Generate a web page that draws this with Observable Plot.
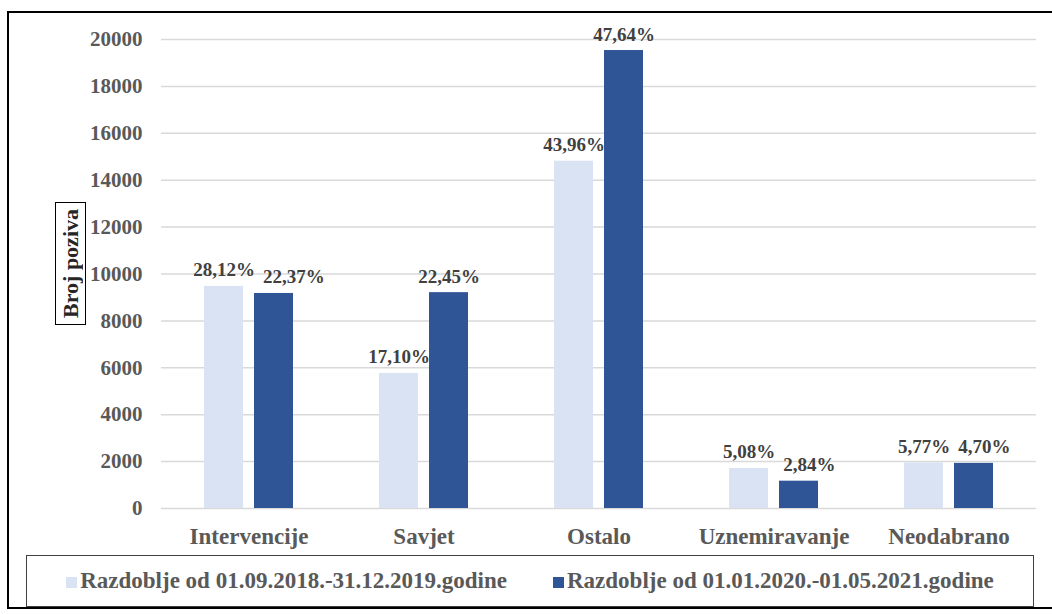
<!DOCTYPE html>
<html>
<head>
<meta charset="utf-8">
<script src="https://cdn.jsdelivr.net/npm/d3@7"></script>
<script src="https://cdn.jsdelivr.net/npm/@observablehq/plot@0.6"></script>
<style>
  html, body { margin: 0; padding: 0; background: #fff; }
  #wrap { position: relative; width: 1052px; height: 614px; overflow: hidden; font-family: "Liberation Serif", "Times New Roman", serif; }
  #frame { position: absolute; left: 7px; top: 11px; width: 1100px; height: 598px; border: 2px solid #000; pointer-events: none; box-sizing: border-box; }
  #ylab { position: absolute; left: 55px; top: 202px; width: 31px; height: 123px; border: 1.5px solid #000; box-sizing: border-box;
          display: flex; align-items: center; justify-content: center; background: #fff; }
  #ylab span { writing-mode: vertical-rl; transform: rotate(180deg); font-weight: bold; font-size: 22px; color: #262626; white-space: nowrap; }
  #legend { position: absolute; left: 26px; top: 555px; width: 1008px; height: 52px; border: 1.5px solid #404040; box-sizing: border-box;
            display: flex; align-items: center; justify-content: center; gap: 46px; }
  .item { display: flex; align-items: center; font-weight: bold; font-size: 23px; color: #595959; white-space: nowrap; }
  .sw { display: inline-block; width: 11px; height: 11px; margin-right: 3px; margin-top: 2px; }
  svg { display: block; }
</style>
</head>
<body>
<div id="wrap">
  <div id="chart"></div>
  <div id="ylab"><span>Broj poziva</span></div>
  <div id="legend"></div>
  <div id="frame"></div>
</div>
<script>
const categories = ["Intervencije", "Savjet", "Ostalo", "Uznemiravanje", "Neodabrano"];
const series = ["Razdoblje od 01.09.2018.-31.12.2019.godine", "Razdoblje od 01.01.2020.-01.05.2021.godine"];
const values2018 = [9470, 5760, 14810, 1710, 1945];
const values2020 = [9170, 9205, 19530, 1165, 1925];
const pct2018 = ["28,12%", "17,10%", "43,96%", "5,08%", "5,77%"];
const pct2020 = ["22,37%", "22,45%", "47,64%", "2,84%", "4,70%"];
const yTicks = [0, 2000, 4000, 6000, 8000, 10000, 12000, 14000, 16000, 18000, 20000];
const colors = ["#DAE3F3", "#2F5597"];

const data = categories.flatMap((c, i) => [
  {cat: c, s: series[0], v: values2018[i], p: pct2018[i]},
  {cat: c, s: series[1], v: values2020[i], p: pct2020[i]}
]);

// layout constants
const W = 1052, H = 550, mL = 161, mR = 16, mT = 39, mB = 42;
const labelFs = 19;
const yScale = Plot.scale({y: {domain: [0, 20000], range: [H - mB, mT]}});
const estW = s => [...s].reduce((a, ch) => a + (ch === "%" ? 1.0 : ch === "," ? 0.25 : 0.5), 0) * labelFs;
const facetStep = (W - mL - mR) / categories.length;
const barStep = facetStep / (2 - 0.22 + 2 * 0.86);

// simple collision avoidance for value labels within each group
const labelMarks = [];
categories.forEach((c, i) => {
  const a = data[2 * i], b = data[2 * i + 1];
  const blA = yScale.apply(a.v) - 10, blB = yScale.apply(b.v) - 10;
  const over = (estW(a.p) + estW(b.p)) / 2 + 8 - barStep;
  const dxB = (over > 0 && Math.abs(blA - blB) < labelFs) ? over : 0;
  [[a, 0], [b, dxB]].forEach(([d, dx]) => {
    labelMarks.push(Plot.text([d], {
      fx: "cat", x: "s", y: "v", text: "p", dy: -10, dx,
      lineAnchor: "bottom", fontSize: labelFs, fontWeight: "bold", fill: "#404040"
    }));
  });
});

const chart = Plot.plot({
  width: W, height: H,
  marginLeft: mL, marginRight: mR, marginTop: mT, marginBottom: mB,
  style: {fontFamily: "'Liberation Serif', 'Times New Roman', serif", background: "transparent"},
  fx: {domain: categories, padding: 0, label: null},
  x: {domain: series, paddingInner: 0.22, paddingOuter: 0.86, axis: null},
  y: {domain: [0, 20000], axis: null},
  color: {domain: series, range: colors},
  marks: [
    Plot.gridY(yTicks, {stroke: "#d9d9d9", strokeOpacity: 1, strokeWidth: 1.5}),
    Plot.barY(data, {fx: "cat", x: "s", y: "v", fill: "s"}),
    ...labelMarks,
    Plot.axisY({ticks: yTicks, tickSize: 0, tickPadding: 19, tickFormat: d => String(d), fontSize: 21, fontWeight: "bold", color: "#595959", label: null}),
    Plot.axisFx({anchor: "bottom", tickSize: 0, tickPadding: 19, fontSize: 23, fontWeight: "bold", color: "#595959", label: null})
  ]
});
document.getElementById("chart").appendChild(chart);

const legend = document.getElementById("legend");
series.forEach((s, i) => {
  const it = document.createElement("div");
  it.className = "item";
  const sw = document.createElement("span");
  sw.className = "sw";
  sw.style.background = colors[i];
  const t = document.createElement("span");
  t.textContent = s;
  it.appendChild(sw);
  it.appendChild(t);
  legend.appendChild(it);
});
</script>
</body>
</html>
